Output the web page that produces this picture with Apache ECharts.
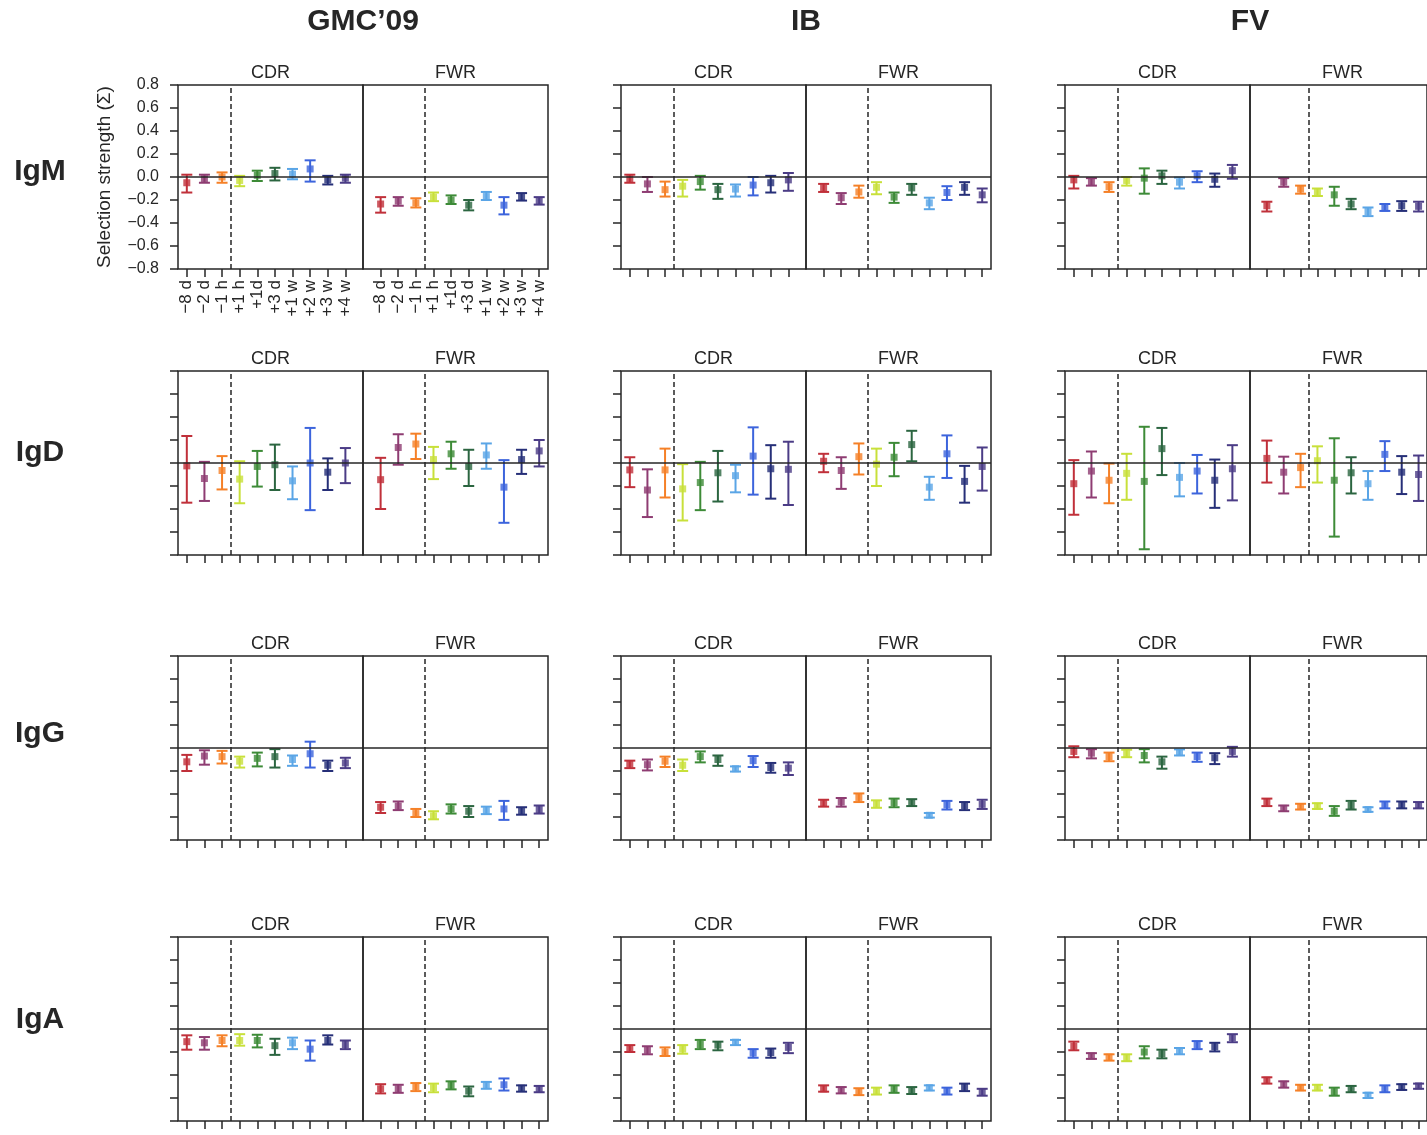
<!DOCTYPE html>
<html>
<head>
<meta charset="utf-8">
<script src="https://cdn.jsdelivr.net/npm/echarts@6/dist/echarts.min.js"></script>
<style>
  html, body { margin: 0; padding: 0; background: #fff; }
  #chart { width: 1427px; height: 1135px; }
</style>
</head>
<body>
<div id="chart"></div>
<script>
var timepoints = ['\u22128 d', '\u22122 d', '\u22121 h', '+1 h', '+1d', '+3 d', '+1 w', '+2 w', '+3 w', '+4 w'];
var pointColors = ['#c0303a', '#8e3c72', '#f58027', '#c8e03a', '#3d8b37', '#2b6540', '#5aa5e6', '#3c64dc', '#262f78', '#4b3c86'];
var methods = ['GMC\u201909', 'IB', 'FV'];
var isotypes = ['IgM', 'IgD', 'IgG', 'IgA'];
var regions = ['CDR', 'FWR'];
var yMin = -0.8, yMax = 0.8, yStep = 0.2;

// each entry: [mean, lower, upper], one per timepoint
var igmGmcCdr = [[-0.05,-0.135,0.02],[-0.015,-0.05,0.02],[0,-0.05,0.04],[-0.03,-0.08,0.01],[0.015,-0.035,0.055],[0.03,-0.03,0.08],[0.025,-0.02,0.07],[0.07,-0.04,0.145],[-0.025,-0.065,0.01],[-0.01,-0.05,0.02]];
var igmGmcFwr = [[-0.235,-0.31,-0.175],[-0.21,-0.25,-0.175],[-0.225,-0.265,-0.185],[-0.175,-0.21,-0.135],[-0.2,-0.235,-0.16],[-0.245,-0.29,-0.2],[-0.17,-0.2,-0.13],[-0.245,-0.325,-0.175],[-0.175,-0.205,-0.14],[-0.21,-0.24,-0.175]];
var igmIbCdr = [[-0.015,-0.05,0.02],[-0.06,-0.13,0],[-0.11,-0.17,-0.04],[-0.08,-0.17,-0.025],[-0.04,-0.11,0.01],[-0.11,-0.19,-0.06],[-0.105,-0.17,-0.065],[-0.07,-0.16,0],[-0.05,-0.135,0.01],[-0.025,-0.12,0.035]];
var igmIbFwr = [[-0.095,-0.13,-0.06],[-0.18,-0.235,-0.14],[-0.13,-0.18,-0.075],[-0.09,-0.15,-0.045],[-0.175,-0.225,-0.135],[-0.095,-0.155,-0.06],[-0.225,-0.28,-0.18],[-0.135,-0.2,-0.08],[-0.09,-0.155,-0.045],[-0.155,-0.22,-0.1]];
var igmFvCdr = [[-0.025,-0.1,0.01],[-0.04,-0.075,-0.01],[-0.085,-0.13,-0.045],[-0.03,-0.075,0],[-0.01,-0.145,0.075],[0.01,-0.06,0.055],[-0.045,-0.1,-0.005],[0.01,-0.045,0.05],[-0.02,-0.085,0.03],[0.055,-0.015,0.105]];
var igmFvFwr = [[-0.25,-0.3,-0.215],[-0.045,-0.085,-0.01],[-0.105,-0.145,-0.075],[-0.13,-0.165,-0.1],[-0.155,-0.25,-0.085],[-0.235,-0.28,-0.19],[-0.3,-0.34,-0.265],[-0.27,-0.295,-0.235],[-0.25,-0.295,-0.21],[-0.255,-0.3,-0.215]];

var igdGmcCdr = [[-0.025,-0.345,0.235],[-0.135,-0.33,0.01],[-0.065,-0.23,0.06],[-0.14,-0.35,0.015],[-0.03,-0.205,0.105],[-0.015,-0.235,0.16],[-0.155,-0.315,-0.03],[0,-0.41,0.305],[-0.08,-0.235,0.04],[0,-0.175,0.13]];
var igdGmcFwr = [[-0.145,-0.4,0.045],[0.135,-0.015,0.25],[0.165,0.035,0.255],[0.03,-0.14,0.14],[0.08,-0.05,0.185],[-0.03,-0.2,0.115],[0.07,-0.05,0.17],[-0.21,-0.52,0.025],[0.03,-0.095,0.115],[0.105,-0.03,0.2]];
var igdIbCdr = [[-0.06,-0.21,0.05],[-0.235,-0.47,-0.055],[-0.06,-0.3,0.125],[-0.225,-0.5,-0.01],[-0.17,-0.41,0.01],[-0.085,-0.335,0.105],[-0.11,-0.255,-0.015],[0.06,-0.275,0.31],[-0.05,-0.31,0.155],[-0.055,-0.365,0.185]];
var igdIbFwr = [[0.015,-0.08,0.08],[-0.065,-0.225,0.05],[0.055,-0.1,0.17],[-0.01,-0.2,0.125],[0.05,-0.115,0.175],[0.16,0.015,0.28],[-0.21,-0.32,-0.12],[0.08,-0.13,0.24],[-0.16,-0.345,-0.025],[-0.03,-0.24,0.135]];
var igdFvCdr = [[-0.18,-0.45,0.025],[-0.07,-0.3,0.1],[-0.15,-0.35,-0.005],[-0.09,-0.32,0.08],[-0.16,-0.75,0.315],[0.125,-0.105,0.305],[-0.125,-0.29,0],[-0.07,-0.265,0.07],[-0.15,-0.39,0.03],[-0.05,-0.325,0.155]];
var igdFvFwr = [[0.04,-0.17,0.195],[-0.08,-0.265,0.055],[-0.04,-0.21,0.08],[0.02,-0.17,0.145],[-0.15,-0.64,0.215],[-0.085,-0.265,0.05],[-0.18,-0.32,-0.07],[0.075,-0.07,0.19],[-0.08,-0.27,0.06],[-0.1,-0.33,0.065]];

var iggGmcCdr = [[-0.12,-0.2,-0.06],[-0.07,-0.145,-0.02],[-0.075,-0.135,-0.025],[-0.115,-0.17,-0.075],[-0.09,-0.16,-0.04],[-0.075,-0.17,-0.01],[-0.1,-0.155,-0.065],[-0.05,-0.17,0.055],[-0.15,-0.2,-0.11],[-0.13,-0.175,-0.085]];
var iggGmcFwr = [[-0.515,-0.565,-0.47],[-0.505,-0.54,-0.465],[-0.57,-0.6,-0.53],[-0.59,-0.62,-0.55],[-0.53,-0.57,-0.49],[-0.55,-0.6,-0.505],[-0.545,-0.575,-0.51],[-0.53,-0.625,-0.46],[-0.55,-0.58,-0.515],[-0.535,-0.57,-0.5]];
var iggIbCdr = [[-0.14,-0.175,-0.11],[-0.145,-0.195,-0.1],[-0.115,-0.165,-0.075],[-0.15,-0.2,-0.1],[-0.075,-0.125,-0.03],[-0.1,-0.155,-0.065],[-0.18,-0.205,-0.16],[-0.11,-0.165,-0.07],[-0.17,-0.215,-0.13],[-0.175,-0.235,-0.125]];
var iggIbFwr = [[-0.48,-0.51,-0.45],[-0.47,-0.51,-0.435],[-0.43,-0.47,-0.395],[-0.485,-0.52,-0.455],[-0.475,-0.515,-0.44],[-0.475,-0.505,-0.445],[-0.585,-0.605,-0.565],[-0.495,-0.535,-0.46],[-0.5,-0.54,-0.47],[-0.49,-0.53,-0.45]];
var iggFvCdr = [[-0.03,-0.08,0.015],[-0.045,-0.09,-0.01],[-0.075,-0.115,-0.04],[-0.05,-0.08,-0.015],[-0.065,-0.125,-0.01],[-0.12,-0.18,-0.075],[-0.04,-0.065,-0.012],[-0.075,-0.12,-0.04],[-0.085,-0.14,-0.045],[-0.03,-0.075,0.01]];
var iggFvFwr = [[-0.47,-0.505,-0.44],[-0.525,-0.55,-0.5],[-0.51,-0.535,-0.485],[-0.505,-0.53,-0.48],[-0.55,-0.59,-0.505],[-0.5,-0.535,-0.46],[-0.535,-0.555,-0.515],[-0.495,-0.525,-0.465],[-0.495,-0.525,-0.465],[-0.5,-0.525,-0.47]];

var igaGmcCdr = [[-0.11,-0.18,-0.055],[-0.12,-0.18,-0.07],[-0.1,-0.15,-0.055],[-0.1,-0.145,-0.045],[-0.1,-0.16,-0.05],[-0.145,-0.225,-0.085],[-0.12,-0.175,-0.075],[-0.175,-0.275,-0.1],[-0.1,-0.135,-0.055],[-0.135,-0.175,-0.1]];
var igaGmcFwr = [[-0.52,-0.56,-0.48],[-0.52,-0.555,-0.485],[-0.5,-0.54,-0.47],[-0.51,-0.55,-0.475],[-0.49,-0.525,-0.455],[-0.54,-0.585,-0.5],[-0.49,-0.52,-0.46],[-0.485,-0.535,-0.43],[-0.515,-0.545,-0.49],[-0.52,-0.55,-0.495]];
var igaIbCdr = [[-0.17,-0.2,-0.14],[-0.185,-0.22,-0.15],[-0.2,-0.235,-0.16],[-0.175,-0.215,-0.14],[-0.135,-0.175,-0.095],[-0.14,-0.185,-0.11],[-0.115,-0.14,-0.095],[-0.21,-0.25,-0.175],[-0.205,-0.25,-0.17],[-0.16,-0.21,-0.12]];
var igaIbFwr = [[-0.52,-0.545,-0.49],[-0.53,-0.56,-0.505],[-0.545,-0.575,-0.515],[-0.54,-0.57,-0.51],[-0.52,-0.555,-0.49],[-0.535,-0.565,-0.505],[-0.51,-0.535,-0.49],[-0.54,-0.57,-0.51],[-0.505,-0.54,-0.475],[-0.55,-0.58,-0.52]];
var igaFvCdr = [[-0.15,-0.185,-0.11],[-0.235,-0.26,-0.21],[-0.245,-0.275,-0.22],[-0.25,-0.28,-0.22],[-0.2,-0.255,-0.15],[-0.215,-0.255,-0.18],[-0.19,-0.22,-0.165],[-0.14,-0.175,-0.105],[-0.155,-0.195,-0.12],[-0.075,-0.115,-0.045]];
var igaFvFwr = [[-0.445,-0.475,-0.42],[-0.48,-0.51,-0.455],[-0.51,-0.535,-0.485],[-0.51,-0.535,-0.485],[-0.545,-0.58,-0.51],[-0.52,-0.55,-0.495],[-0.575,-0.6,-0.555],[-0.52,-0.55,-0.49],[-0.505,-0.53,-0.48],[-0.495,-0.52,-0.475]];

var panelData = [
	[[igmGmcCdr, igmGmcFwr], [igmIbCdr, igmIbFwr], [igmFvCdr, igmFvFwr]],
	[[igdGmcCdr, igdGmcFwr], [igdIbCdr, igdIbFwr], [igdFvCdr, igdFvFwr]],
	[[iggGmcCdr, iggGmcFwr], [iggIbCdr, iggIbFwr], [iggFvCdr, iggFvFwr]],
	[[igaGmcCdr, igaGmcFwr], [igaIbCdr, igaIbFwr], [igaFvCdr, igaFvFwr]]
];

var colLeft = [178, 621, 1065],
	rowTop = [85, 371, 656, 937],
	rowLabelY = [172, 453, 734, 1020],
	panelW = 185,
	panelH = 184,
	ink = '#262626',
	font = 'Liberation Sans, Arial, Helvetica, sans-serif',
	tickVals = timepoints.map(function (t, i) { return i + 1; });

function renderBar(params, api) {
	var x = api.value(0),
		lo = api.coord([x, api.value(1)]),
		hi = api.coord([x, api.value(2)]),
		color = pointColors[params.dataIndex],
		style = { stroke: color, lineWidth: 2 },
		cap = 5.5;
	return {
		type: 'group',
		children: [
			{ type: 'line', shape: { x1: lo[0], y1: lo[1], x2: hi[0], y2: hi[1] }, style: style },
			{ type: 'line', shape: { x1: lo[0] - cap, y1: lo[1], x2: lo[0] + cap, y2: lo[1] }, style: style },
			{ type: 'line', shape: { x1: hi[0] - cap, y1: hi[1], x2: hi[0] + cap, y2: hi[1] }, style: style }
		]
	};
}

var grids = [], xAxes = [], yAxes = [], series = [], graphics = [];
var r, c, p, k, d, first;

for (r = 0; r < isotypes.length; r++) {
	graphics.push({
		type: 'text', x: 40, y: rowLabelY[r],
		style: { text: isotypes[r], font: 'bold 30px ' + font, fill: ink, textAlign: 'center', textVerticalAlign: 'middle' }
	});
	for (c = 0; c < methods.length; c++) {
		for (p = 0; p < 2; p++) {
			k = grids.length;
			d = panelData[r][c][p];
			first = (r == 0 && c == 0);

			grids.push({
				left: colLeft[c] + p * panelW,
				top: rowTop[r],
				width: panelW,
				height: panelH,
				show: true,
				borderColor: ink,
				borderWidth: 1.5,
				backgroundColor: 'transparent'
			});

			xAxes.push({
				type: 'value',
				gridIndex: k,
				position: 'bottom',
				min: p == 0 ? 0.5 : 0,
				max: p == 0 ? 11 : 10.5,
				axisLine: { show: false, onZero: false },
				splitLine: { show: false },
				axisTick: { show: true, customValues: tickVals, length: 8, lineStyle: { color: ink, width: 1.5 } },
				axisLabel: {
					show: first,
					customValues: tickVals,
					rotate: 90,
					margin: 11,
					fontSize: 17,
					fontFamily: font,
					color: ink,
					formatter: function (v) { return timepoints[Math.round(v) - 1]; }
				}
			});

			yAxes.push({
				type: 'value',
				gridIndex: k,
				position: 'left',
				min: yMin,
				max: yMax,
				interval: yStep,
				axisLine: { show: false, onZero: false },
				splitLine: { show: false },
				axisTick: { show: p == 0, length: 8, lineStyle: { color: ink, width: 1.5 } },
				axisLabel: {
					show: first && p == 0,
					margin: 19,
					fontSize: 16,
					fontFamily: font,
					color: ink,
					formatter: function (v) {
						if (Math.abs(v) < 1e-9) v = 0;
						return v.toFixed(1).replace('-', '\u2212');
					}
				},
				name: (first && p == 0) ? 'Selection strength (\u03a3)' : '',
				nameLocation: 'middle',
				nameGap: 64,
				nameTextStyle: { fontSize: 19, fontFamily: font, color: ink }
			});

			series.push({
				type: 'custom',
				xAxisIndex: k,
				yAxisIndex: k,
				renderItem: renderBar,
				encode: { x: 0, y: [1, 2] },
				data: d.map(function (v, i) { return [i + 1, v[1], v[2]]; }),
				z: 3
			});

			series.push({
				type: 'scatter',
				xAxisIndex: k,
				yAxisIndex: k,
				symbol: 'rect',
				symbolSize: 7,
				itemStyle: { color: function (prm) { return pointColors[prm.dataIndex]; } },
				data: d.map(function (v, i) { return [i + 1, v[0]]; }),
				z: 4,
				markLine: {
					silent: true,
					symbol: 'none',
					label: { show: false },
					animation: false,
					data: [
						{ yAxis: 0, lineStyle: { color: ink, width: 1.5, type: 'solid' } },
						{ xAxis: 3.5, lineStyle: { color: ink, width: 1.5, type: [5, 3] } }
					]
				}
			});

			graphics.push({
				type: 'text',
				x: colLeft[c] + p * panelW + panelW / 2,
				y: rowTop[r] - 3,
				style: { text: regions[p], font: '18px ' + font, fill: ink, textAlign: 'center', textVerticalAlign: 'bottom' }
			});
		}
	}
}

for (c = 0; c < methods.length; c++) {
	graphics.push({
		type: 'text',
		x: colLeft[c] + panelW,
		y: 22,
		style: { text: methods[c], font: 'bold 30px ' + font, fill: ink, textAlign: 'center', textVerticalAlign: 'middle' }
	});
}

var myChart = echarts.init(document.getElementById('chart'), null, { renderer: 'canvas' });
myChart.setOption({
	animation: false,
	backgroundColor: '#fff',
	grid: grids,
	xAxis: xAxes,
	yAxis: yAxes,
	series: series,
	graphic: graphics
});
</script>
</body>
</html>
